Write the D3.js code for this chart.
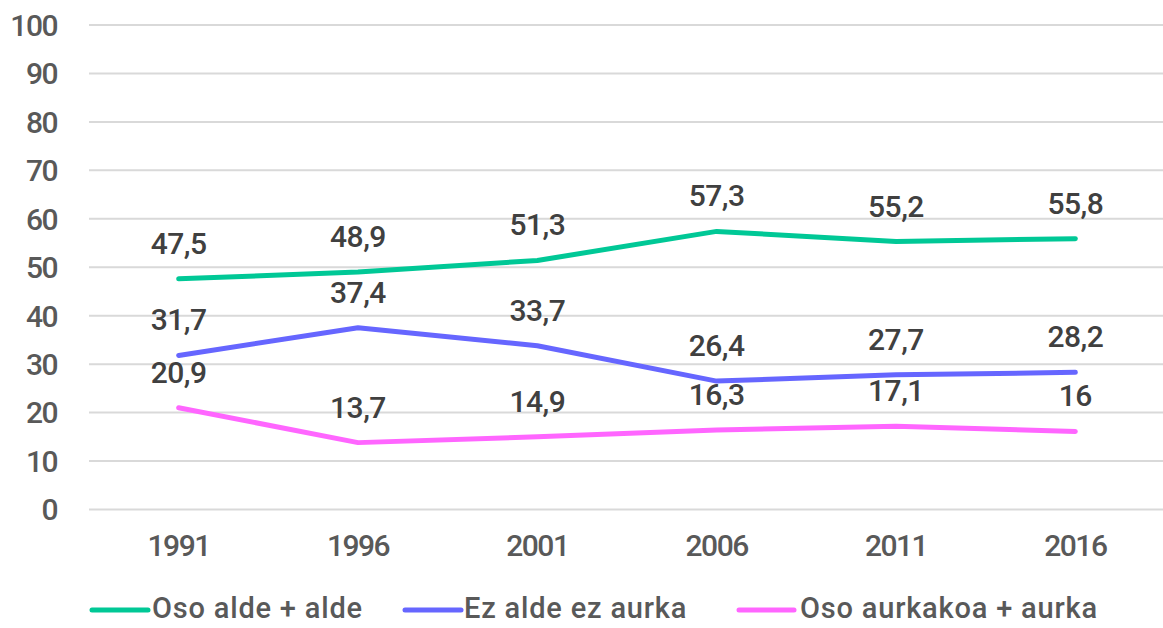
<!DOCTYPE html>
<html><head><meta charset="utf-8">
<script src="https://cdn.jsdelivr.net/npm/d3@7"></script>
<style>body{margin:0;background:#fff}svg{display:block}text{font-family:Roboto,"DejaVu Sans Condensed",sans-serif;font-weight:500}</style>
</head><body><div id="c"></div>
<script>
const years = ["1991","1996","2001","2006","2011","2016"];
const seriesNames = ["Oso alde + alde","Ez alde ez aurka","Oso aurkakoa + aurka"];
const greenVals = [47.5,48.9,51.3,57.3,55.2,55.8];
const blueVals = [31.7,37.4,33.7,26.4,27.7,28.2];
const pinkVals = [20.9,13.7,14.9,16.3,17.1,16];
const seriesColors = ["#00C896","#6666FF","#FF66FF"];
const yTicks = [0,10,20,30,40,50,60,70,80,90,100];

const W=1163,H=628;
const svg=d3.select("#c").append("svg").attr("width",W).attr("height",H);
const x=d3.scaleBand().domain(years).range([89,1165]);
const y=d3.scaleLinear().domain([0,100]).range([509,24.5]);
const cx=d=>x(d)+x.bandwidth()/2;

const ga=svg.append("g").attr("transform","translate(89,0)")
  .call(d3.axisLeft(y).tickValues(yTicks).tickSize(-(1163-89)).tickPadding(32));
ga.select(".domain").remove();
ga.selectAll(".tick line").attr("stroke","#d9d9d9").attr("stroke-width",2);
ga.selectAll(".tick text").attr("fill","#595959").attr("font-size",30).attr("letter-spacing",-1.5).attr("dy","0.36em");

const gx=svg.append("g").attr("transform","translate(0,509)").call(d3.axisBottom(x).tickSize(0).tickPadding(26));
gx.select(".domain").remove();
gx.selectAll(".tick text").attr("fill","#595959").attr("font-size",30).attr("letter-spacing",-1.5);

const all=[greenVals,blueVals,pinkVals];
const line=d3.line().x((d,i)=>cx(years[i])).y(d=>y(d));
all.forEach((vals,k)=>{
  svg.append("path").datum(vals).attr("d",line).attr("fill","none")
    .attr("stroke",seriesColors[k]).attr("stroke-width",5).attr("stroke-linejoin","round").attr("stroke-linecap","round");
});
all.forEach((vals,k)=>{
  svg.append("g").selectAll("text").data(vals).join("text")
    .attr("x",(d,i)=>cx(years[i])).attr("y",d=>y(d)-25)
    .attr("text-anchor","middle").attr("fill","#404040").attr("font-size",30).attr("letter-spacing",-0.5)
    .text(d=>String(d).replace(".",","));
});

const legLine=[[92,148],[405,461],[739,794]];
const legText=[152,464,800];
const legY=608;
const lg=svg.append("g");
seriesNames.forEach((n,k)=>{
  lg.append("line").attr("x1",legLine[k][0]).attr("x2",legLine[k][1]).attr("y1",legY+2).attr("y2",legY+2)
    .attr("stroke",seriesColors[k]).attr("stroke-width",5).attr("stroke-linecap","round");
  lg.append("text").attr("x",legText[k]).attr("y",legY).attr("dy","0.36em")
    .attr("fill","#595959").attr("font-size",29).attr("letter-spacing",0.8).text(n);
});
</script></body></html>
